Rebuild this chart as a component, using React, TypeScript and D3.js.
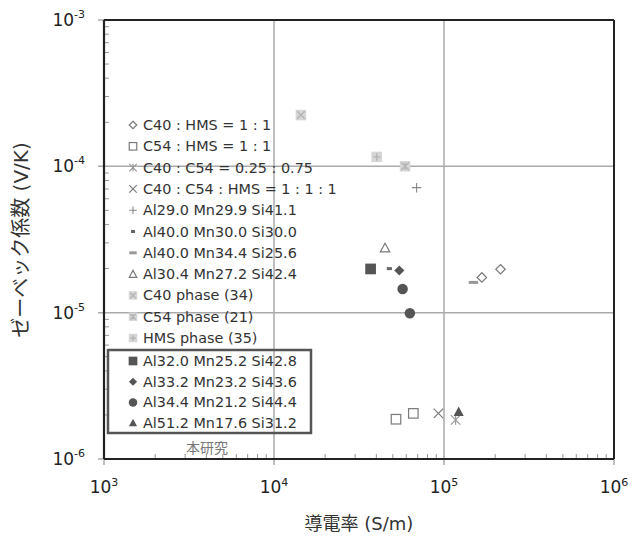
import * as d3 from "d3";

// conductivity (S/m), Seebeck coefficient (V/K)
const c40Hms = [[1.67e5, 1.74e-5], [2.15e5, 1.98e-5]];
const c54Hms = [[5.22e4, 1.87e-6], [6.6e4, 2.05e-6]];
const c40C54 = [[1.17e5, 1.85e-6]];
const c40C54Hms = [[9.27e4, 2.05e-6]];
const al290 = [[6.9e4, 7.15e-5]];
const al400a = [[4.77e4, 2.0e-5]];
const al400b = [[1.49e5, 1.61e-5]];
const al304 = [[4.5e4, 2.77e-5]];
const c40Phase = [[1.44e4, 2.24e-4]];
const c54Phase = [[5.9e4, 1.0e-4]];
const hmsPhase = [[4.02e4, 1.16e-4]];
const al320 = [[3.7e4, 1.99e-5]];
const al332 = [[5.46e4, 1.94e-5]];
const al344 = [[5.71e4, 1.45e-5], [6.3e4, 9.9e-6]];
const al512 = [[1.22e5, 2.1e-6]];

const labels = [
  "C40 : HMS = 1 : 1",
  "C54 : HMS = 1 : 1",
  "C40 : C54 = 0.25 : 0.75",
  "C40 : C54 : HMS = 1 : 1 : 1",
  "Al29.0 Mn29.9 Si41.1",
  "Al40.0 Mn30.0 Si30.0",
  "Al40.0 Mn34.4 Si25.6",
  "Al30.4 Mn27.2 Si42.4",
  "C40 phase (34)",
  "C54 phase (21)",
  "HMS phase (35)",
  "Al32.0 Mn25.2 Si42.8",
  "Al33.2 Mn23.2 Si43.6",
  "Al34.4 Mn21.2 Si44.4",
  "Al51.2 Mn17.6 Si31.2",
];
const markers = [
  "odiamond", "osquare", "asterisk", "cross", "plus", "sdash", "ldash", "otriangle",
  "gboxX", "gboxA", "gboxP", "fsquare", "fdiamond", "fcircle", "ftriangle",
];
const seriesData = [
  c40Hms, c54Hms, c40C54, c40C54Hms, al290, al400a, al400b, al304,
  c40Phase, c54Phase, hmsPhase, al320, al332, al344, al512,
];

const xExps = [3, 4, 5, 6];
const yExps = [-3, -4, -5, -6];

const W = 639;
const H = 536;
const x = d3.scaleLog().domain([1e3, 1e6]).range([104, 614]);
const y = d3.scaleLog().domain([1e-6, 1e-3]).range([459, 20]);

const FONT = "'DejaVu Sans', 'Noto Sans CJK JP', sans-serif";

function Marker({ kind, cx, cy, s }: { kind: string; cx: number; cy: number; s: number }) {
  const h = s / 2;
  const dark = "#555";
  const gray = "#7a7a7a";
  switch (kind) {
    case "odiamond":
      return <path d={`M${cx},${cy - h}L${cx + h},${cy}L${cx},${cy + h}L${cx - h},${cy}Z`} fill="#fff" stroke={gray} strokeWidth={1.2} />;
    case "osquare":
      return <rect x={cx - h} y={cy - h} width={s} height={s} fill="#fff" stroke={gray} strokeWidth={1.2} />;
    case "asterisk":
      return (
        <path d={`M${cx - h},${cy - h}L${cx + h},${cy + h}M${cx + h},${cy - h}L${cx - h},${cy + h}M${cx},${cy - h}L${cx},${cy + h}`} stroke="#999" strokeWidth={1.2} />
      );
    case "cross":
      return <path d={`M${cx - h},${cy - h}L${cx + h},${cy + h}M${cx + h},${cy - h}L${cx - h},${cy + h}`} stroke={gray} strokeWidth={1.2} />;
    case "plus":
      return <path d={`M${cx - h},${cy}L${cx + h},${cy}M${cx},${cy - h}L${cx},${cy + h}`} stroke="#888" strokeWidth={1.1} />;
    case "sdash":
      return <rect x={cx - s * 0.27} y={cy - 1.5} width={s * 0.54} height={3} fill="#666" />;
    case "ldash":
      return <rect x={cx - h} y={cy - 1.5} width={s} height={3} fill="#999" />;
    case "otriangle":
      return <path d={`M${cx},${cy - h}L${cx + h},${cy + h * 0.85}L${cx - h},${cy + h * 0.85}Z`} fill="#fff" stroke={gray} strokeWidth={1.2} />;
    case "gboxX":
    case "gboxA":
    case "gboxP": {
      const b = h + 0.5;
      const i = b - 1.5;
      let d = `M${cx - i},${cy - i}L${cx + i},${cy + i}M${cx + i},${cy - i}L${cx - i},${cy + i}`;
      if (kind === "gboxA") d += `M${cx},${cy - i}L${cx},${cy + i}`;
      if (kind === "gboxP") d = `M${cx - i},${cy}L${cx + i},${cy}M${cx},${cy - i}L${cx},${cy + i}`;
      return (
        <g>
          <rect x={cx - b} y={cy - b} width={2 * b} height={2 * b} fill="#d6d6d6" />
          <path d={d} stroke="#b5b5b5" strokeWidth={1.4} />
        </g>
      );
    }
    case "fsquare":
      return <rect x={cx - h - 0.6} y={cy - h - 0.6} width={s + 1.2} height={s + 1.2} fill={dark} />;
    case "fdiamond":
      return <path d={`M${cx},${cy - h - 0.3}L${cx + h + 0.3},${cy}L${cx},${cy + h + 0.3}L${cx - h - 0.3},${cy}Z`} fill={dark} />;
    case "fcircle":
      return <circle cx={cx} cy={cy} r={h + 0.5} fill={dark} />;
    case "ftriangle":
      return <path d={`M${cx},${cy - h - 0.5}L${cx + h + 0.3},${cy + h * 0.85}L${cx - h - 0.3},${cy + h * 0.85}Z`} fill={dark} />;
    default:
      return null;
  }
}

function minorTicks(lo: number, hi: number) {
  const out: number[] = [];
  for (let e = lo; e < hi; e++) {
    for (let k = 2; k <= 9; k++) out.push(k * Math.pow(10, e));
  }
  return out;
}

export default function App() {
  const [x0, x1] = x.range();
  const [yb, yt] = y.range();
  const xMinor = minorTicks(3, 6);
  const yMinor = minorTicks(-6, -3);
  const legendY = (i: number) => (i < 11 ? 125 + i * 21.3 : 361 + (i - 11) * 20.7);

  return (
    <svg width={W} height={H} style={{ position: "absolute", left: 0, top: 0, fontFamily: FONT }}>
      <rect width={W} height={H} fill="#fff" />

      {/* grid + major ticks */}
      {xExps.map((e) => (
        <line key={"gx" + e} x1={x(10 ** e)} x2={x(10 ** e)} y1={yt} y2={yb + 6} stroke="#aaa" strokeWidth={1.5} />
      ))}
      {yExps.map((e) => (
        <line key={"gy" + e} x1={x0 - 6} x2={x1} y1={y(10 ** e)} y2={y(10 ** e)} stroke="#aaa" strokeWidth={1.5} />
      ))}

      {/* minor ticks */}
      {xMinor.map((v, i) => (
        <line key={"mx" + i} x1={x(v)} x2={x(v)} y1={yb} y2={yb - 5} stroke="#999" strokeWidth={1} />
      ))}
      {yMinor.map((v, i) => (
        <line key={"my" + i} x1={x0} x2={x0 + 5} y1={y(v)} y2={y(v)} stroke="#999" strokeWidth={1} />
      ))}

      {/* frame */}
      <line x1={x0} x2={x1} y1={yt} y2={yt} stroke="#222" strokeWidth={2} />
      <line x1={x1} x2={x1} y1={yt} y2={yb} stroke="#222" strokeWidth={2} />
      <line x1={x0} x2={x1} y1={yb} y2={yb} stroke="#222" strokeWidth={2.2} />
      <line x1={x0} x2={x0} y1={yt} y2={yb} stroke="#222" strokeWidth={2.2} />

      {/* tick labels */}
      {xExps.map((e) => (
        <text key={"tx" + e} x={x(10 ** e)} y={493} textAnchor="middle" fontSize={17} fill="#222">
          <tspan>10</tspan>
          <tspan fontSize={11} dy={-7}>{e}</tspan>
        </text>
      ))}
      {yExps.map((e) => (
        <text key={"ty" + e} x={85} y={y(10 ** e) + 6} textAnchor="end" fontSize={17} fill="#222">
          <tspan>10</tspan>
          <tspan fontSize={11} dy={-8}>{e}</tspan>
        </text>
      ))}

      {/* axis titles */}
      <text x={359} y={530} textAnchor="middle" fontSize={18} fill="#333">導電率 (S/m)</text>
      <text transform="translate(28,240) rotate(-90)" textAnchor="middle" fontSize={20} fill="#333">
        ゼーベック係数 (V/K)
      </text>

      {/* legend */}
      {labels.map((lab, i) => (
        <g key={"lg" + i}>
          <Marker kind={markers[i]} cx={133} cy={legendY(i)} s={7.5} />
          <text x={143} y={legendY(i) + 5} fontSize={14.4} fill="#333">{lab}</text>
        </g>
      ))}
      <rect x={108} y={350} width={203} height={83} fill="none" stroke="#555" strokeWidth={2.5} />
      <text x={207} y={453} textAnchor="middle" fontSize={14} fill="#777">本研究</text>

      {/* data */}
      {seriesData.map((pts, i) =>
        pts.map((p, j) => (
          <Marker key={`pt${i}-${j}`} kind={markers[i]} cx={x(p[0])} cy={y(p[1])} s={9.5} />
        ))
      )}
    </svg>
  );
}
